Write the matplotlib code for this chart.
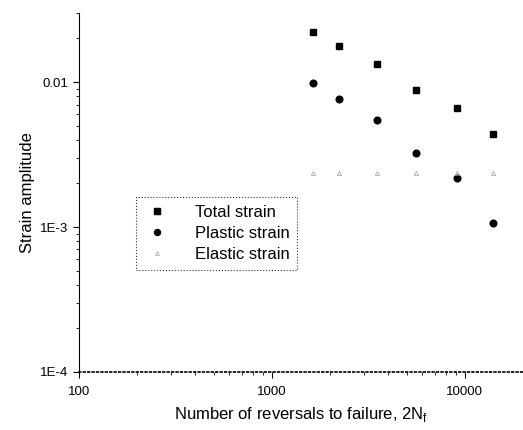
import matplotlib
matplotlib.use("Agg")
import matplotlib.pyplot as plt
from matplotlib.ticker import FixedLocator, FixedFormatter, LogLocator, NullFormatter

plt.rcParams["font.family"] = ["Liberation Sans", "DejaVu Sans"]
plt.rcParams["mathtext.fontset"] = "custom"
plt.rcParams["mathtext.rm"] = "Liberation Sans"

reversals = [1640, 2215, 3520, 5600, 9120, 13900]
total_strain = [0.0221, 0.0177, 0.0133, 0.0088, 0.0066, 0.0044]
plastic_strain = [0.0098, 0.0076, 0.00544, 0.00325, 0.00217, 0.00106]
elastic_strain = [0.00234, 0.00235, 0.00235, 0.00234, 0.00234, 0.00234]

fig = plt.figure(figsize=(5.23, 4.30), dpi=100)
ax = fig.add_axes([0.151, 0.135, 0.849, 0.835])

ax.plot(reversals, total_strain, "s", color="black", ms=4.3, label="Total strain")
ax.plot(reversals, plastic_strain, "o", color="black", ms=4.8, label="Plastic strain")
ax.plot(reversals, elastic_strain, "^", mfc="none", mec="#999999", mew=0.5,
        ms=3, label="Elastic strain")

ax.set_xscale("log")
ax.set_yscale("log")
ax.set_xlim(100, 20000)
ax.set_ylim(1e-4, 0.03)

ax.xaxis.set_major_locator(FixedLocator([100, 1000, 10000]))
ax.xaxis.set_major_formatter(FixedFormatter(["100", "1000", "10000"]))
ax.xaxis.set_minor_locator(LogLocator(base=10, subs=range(2, 10)))
ax.xaxis.set_minor_formatter(NullFormatter())
ax.yaxis.set_major_locator(FixedLocator([1e-4, 1e-3, 1e-2]))
ax.yaxis.set_major_formatter(FixedFormatter(["1E-4", "1E-3", "0.01"]))
ax.yaxis.set_minor_locator(LogLocator(base=10, subs=range(2, 10)))
ax.yaxis.set_minor_formatter(NullFormatter())

ax.tick_params(which="major", direction="out", length=4, width=0.8,
               labelsize=9.5, colors="black")
ax.tick_params(which="minor", direction="out", length=2, width=0.6)
ax.tick_params(axis="x", which="major", pad=6)

ax.spines["top"].set_visible(False)
ax.spines["right"].set_visible(False)
ax.spines["bottom"].set_linestyle(":")
ax.spines["bottom"].set_linewidth(1.2)

ax.set_xlabel(r"Number of reversals to failure, 2N$_\mathregular{f}$",
              fontsize=12, labelpad=5)
ax.set_ylabel("Strain amplitude", fontsize=12, labelpad=4)

leg = ax.legend(loc="upper left", bbox_to_anchor=(0.128, 0.487), borderaxespad=0,
                fontsize=12, frameon=True, fancybox=False, borderpad=0.45,
                handletextpad=1.5, labelspacing=0.38, handlelength=1.6,
                markerscale=0.9)
leg.get_frame().set_edgecolor("black")
leg.get_frame().set_linestyle(":")
leg.get_frame().set_linewidth(0.8)

fig.savefig("out.png", dpi=100)
